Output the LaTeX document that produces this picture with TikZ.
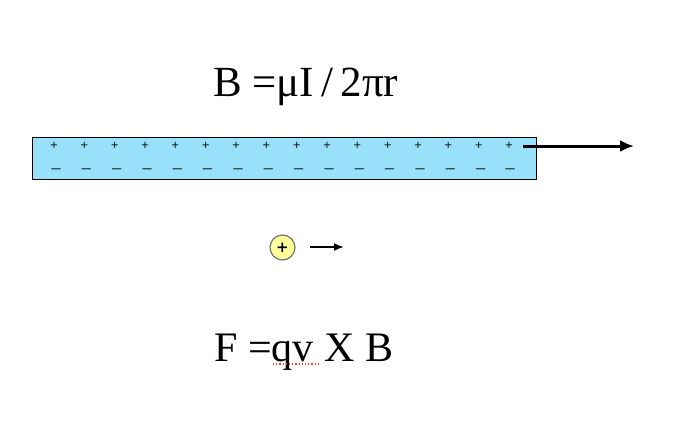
\documentclass[tikz,border=0pt]{standalone}
\usepackage{fontspec}
\setmainfont{Liberation Serif}
\newfontfamily\signfont{DejaVu Sans}
\usetikzlibrary{arrows,arrows.meta,positioning}
\definecolor{wireblue}{RGB}{153,224,250}
\definecolor{chargeyellow}{RGB}{255,255,153}
\definecolor{spellred}{RGB}{235,60,40}

\begin{document}
\begin{tikzpicture}[-,auto,x=1pt,y=-1pt]
\tikzstyle{plus}=[inner sep=0pt,font=\signfont\fontsize{10}{10}\selectfont]
\tikzstyle{minus}=[inner sep=0pt,font=\fontsize{18}{18}\selectfont]
\tikzstyle{formula}=[inner sep=0pt,anchor=base west]

\useasboundingbox (0,0) rectangle (680,428);

\node [formula,font=\fontsize{43}{50}\selectfont] (B) at(213,96) {B =μI\,/\,2πr};

\node [draw=black,line width=1pt,fill=wireblue,minimum width=504pt,minimum height=42pt,inner sep=0pt] (wire) at(284,158) {};

\node [plus] (p0) at(54,145) {+};
\node [plus] (p1) at(84.3,145) {+};
\node [plus] (p2) at(114.7,145) {+};
\node [plus] (p3) at(145,145) {+};
\node [plus] (p4) at(175.3,145) {+};
\node [plus] (p5) at(205.7,145) {+};
\node [plus] (p6) at(236,145) {+};
\node [plus] (p7) at(266.3,145) {+};
\node [plus] (p8) at(296.7,145) {+};
\node [plus] (p9) at(327,145) {+};
\node [plus] (p10) at(357.3,145) {+};
\node [plus] (p11) at(387.7,145) {+};
\node [plus] (p12) at(418,145) {+};
\node [plus] (p13) at(448.3,145) {+};
\node [plus] (p14) at(478.7,145) {+};
\node [plus] (p15) at(509,145) {+};

\node [minus] (m0) at(56,171) {–};
\node [minus] (m1) at(86.3,171) {–};
\node [minus] (m2) at(116.7,171) {–};
\node [minus] (m3) at(147,171) {–};
\node [minus] (m4) at(177.3,171) {–};
\node [minus] (m5) at(207.7,171) {–};
\node [minus] (m6) at(238,171) {–};
\node [minus] (m7) at(268.3,171) {–};
\node [minus] (m8) at(298.7,171) {–};
\node [minus] (m9) at(329,171) {–};
\node [minus] (m10) at(359.3,171) {–};
\node [minus] (m11) at(389.7,171) {–};
\node [minus] (m12) at(420,171) {–};
\node [minus] (m13) at(450.3,171) {–};
\node [minus] (m14) at(480.7,171) {–};
\node [minus] (m15) at(510,171) {–};

\coordinate (i0) at(523,146);
\coordinate (i1) at(634,146);
\path (i0) edge [-{Latex[length=14pt,width=12pt]},line width=3pt] (i1);

\node [circle,draw=black!55,line width=1.2pt,fill=chargeyellow,minimum size=25pt,inner sep=0pt,font=\signfont\bfseries\fontsize{15}{15}\selectfont] (q) at(282.5,247.5) {+};
\coordinate (v0) at(310,247);
\coordinate (v1) at(344,247);
\path (v0) edge [-{Latex[length=10pt,width=8pt]},line width=1.8pt] (v1);

\node [formula,font=\fontsize{42}{48}\selectfont] (F) at(214,361) {F =qv X B};
\coordinate (s0) at(273,364);
\coordinate (s1) at(321,364);
\path (s0) edge [spellred,dotted,line width=1.2pt] (s1);
\end{tikzpicture}
\end{document}
